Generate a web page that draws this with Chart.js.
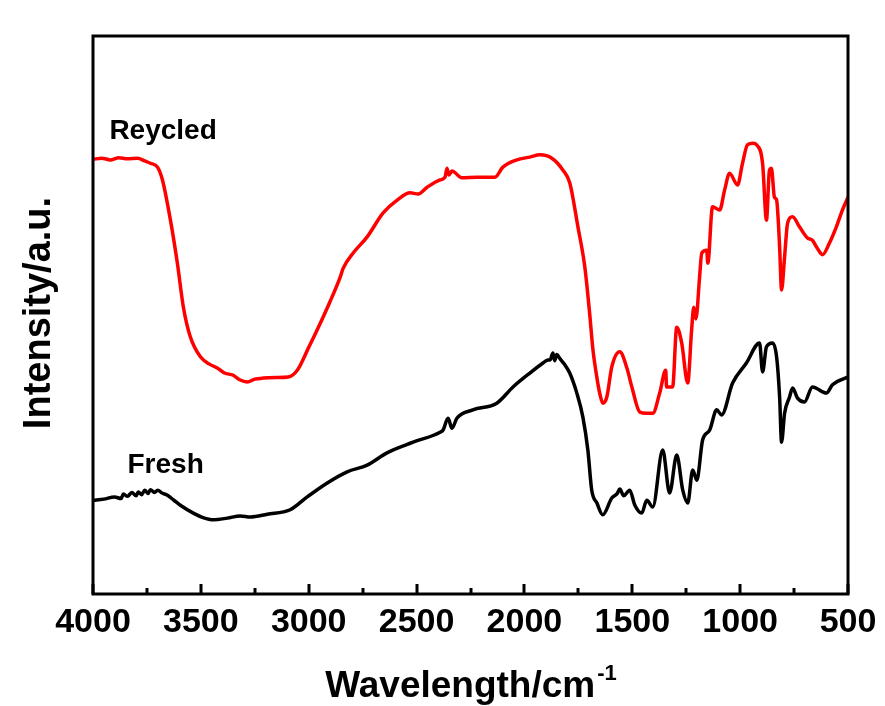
<!DOCTYPE html>
<html>
<head>
<meta charset="utf-8">
<script src="https://cdn.jsdelivr.net/npm/chart.js@4/dist/chart.umd.min.js"></script>
<style>
  html, body { margin: 0; padding: 0; background: #ffffff; }
  #wrap { width: 885px; height: 706px; position: relative; }
</style>
</head>
<body>
<div id="wrap"><canvas id="c" width="885" height="706"></canvas></div>
<script>
// FTIR spectra: wavenumber (cm-1) and relative intensity (a.u.)
const recycledWn = [4000, 3960, 3920, 3880, 3840, 3794, 3760, 3734, 3701, 3678, 3641, 3609, 3581, 3549, 3502, 3460, 3424, 3390, 3350, 3320, 3285, 3250, 3211, 3150, 3095, 3053, 3000, 2961, 2900, 2854, 2840, 2794, 2729, 2655, 2590, 2530, 2493, 2451, 2391, 2368, 2359, 2350, 2336, 2290, 2220, 2137, 2100, 2035, 1975, 1928, 1873, 1822, 1790, 1752, 1720, 1697, 1683, 1665, 1650, 1637, 1618, 1595, 1558, 1525, 1502, 1465, 1433, 1405, 1373, 1345, 1341, 1313, 1294, 1271, 1243, 1225, 1215, 1205, 1188, 1178, 1155, 1150, 1128, 1095, 1072, 1049, 1012, 989, 966, 940, 924, 896, 878, 864, 855, 841, 831, 817, 808, 794, 780, 757, 725, 688, 665, 646, 618, 586, 554, 526, 500];
const recycledInt = [77.9, 78.1, 77.8, 78.2, 78.0, 78.1, 77.6, 77.2, 76.5, 74.2, 67.0, 59.3, 51.4, 46.1, 42.5, 41.2, 40.5, 39.6, 39.2, 38.4, 38.0, 38.5, 38.7, 38.8, 38.9, 40.1, 44.2, 47.3, 52.5, 56.8, 58.4, 61.1, 64.0, 68.3, 70.6, 71.9, 71.7, 72.9, 74.2, 74.7, 76.3, 75.1, 75.8, 74.6, 74.7, 74.7, 76.5, 77.8, 78.3, 78.7, 78.1, 76.0, 73.7, 65.8, 58.6, 50.0, 44.0, 39.0, 35.8, 34.2, 35.3, 40.7, 43.4, 40.5, 37.1, 32.6, 32.4, 32.4, 36.0, 40.1, 37.1, 37.1, 47.8, 45.0, 37.8, 47.3, 51.4, 49.3, 56.8, 61.1, 61.6, 59.3, 69.4, 68.8, 72.4, 75.4, 73.3, 77.2, 80.5, 80.8, 80.5, 77.2, 67.0, 76.0, 76.3, 71.1, 70.6, 62.2, 54.5, 60.4, 66.5, 67.6, 65.8, 63.8, 63.4, 62.2, 60.8, 62.9, 65.8, 68.8, 71.1];

const freshWn = [4000, 3950, 3900, 3870, 3859, 3840, 3820, 3800, 3790, 3775, 3760, 3745, 3734, 3715, 3700, 3680, 3655, 3625, 3595, 3535, 3490, 3442, 3377, 3317, 3271, 3192, 3086, 3007, 2914, 2822, 2729, 2637, 2516, 2391, 2377, 2354, 2336, 2313, 2239, 2128, 2053, 1975, 1914, 1895, 1880, 1868, 1860, 1850, 1836, 1815, 1790, 1757, 1729, 1706, 1688, 1664, 1637, 1595, 1570, 1558, 1540, 1512, 1488, 1456, 1433, 1405, 1359, 1327, 1294, 1266, 1243, 1220, 1201, 1174, 1141, 1109, 1086, 1035, 971, 910, 896, 878, 850, 831, 817, 808, 794, 771, 757, 734, 702, 665, 600, 572, 500];
const freshInt = [16.8, 17.0, 17.4, 17.1, 17.9, 17.5, 18.2, 17.6, 18.3, 17.8, 18.6, 18.0, 18.7, 18.2, 18.6, 18.1, 17.7, 16.8, 15.9, 14.5, 13.7, 13.3, 13.6, 14.0, 13.8, 14.3, 15.1, 17.4, 19.9, 21.9, 23.1, 25.3, 27.2, 29.0, 29.4, 31.5, 29.7, 31.5, 33.0, 34.2, 37.1, 39.6, 41.4, 41.9, 42.0, 43.2, 41.8, 42.9, 42.2, 41.2, 39.6, 36.0, 31.7, 25.8, 18.6, 16.3, 14.2, 17.2, 18.0, 18.8, 17.6, 18.6, 15.9, 14.5, 16.8, 15.6, 25.8, 18.1, 24.9, 18.6, 16.3, 22.2, 20.4, 27.6, 29.4, 33.0, 32.1, 37.8, 41.4, 45.0, 39.8, 44.3, 45.0, 42.5, 35.3, 27.2, 32.4, 35.3, 36.9, 35.1, 34.4, 37.1, 36.0, 37.5, 38.9];

const majorTicks = [4000, 3500, 3000, 2500, 2000, 1500, 1000, 500];
const minorTicks = [3750, 3250, 2750, 2250, 1750, 1250, 750];

const seriesLabels = [
  { text: 'Reycled', wn: 3924, y: 81.5 },
  { text: 'Fresh', wn: 3840, y: 21.7 }
];

const FONT = '"Liberation Sans", Arial, Helvetica, sans-serif';

function pairs(xs, ys) { return xs.map((x, i) => ({ x: x, y: ys[i] })); }

// Frame, inward tick marks, curve labels and axis titles
const decorations = {
  id: 'decorations',
  afterDraw(chart) {
    const { ctx, chartArea: a, scales } = chart;
    const xs = scales.x, ys = scales.y;
    ctx.save();
    ctx.strokeStyle = '#000';
    ctx.lineWidth = 3;
    ctx.strokeRect(a.left, a.top, a.right - a.left, a.bottom - a.top);

    ctx.beginPath();
    majorTicks.forEach(v => {
      const px = Math.round(xs.getPixelForValue(v));
      ctx.moveTo(px, a.bottom);
      ctx.lineTo(px, a.bottom - 10);
    });
    minorTicks.forEach(v => {
      const px = Math.round(xs.getPixelForValue(v));
      ctx.moveTo(px, a.bottom);
      ctx.lineTo(px, a.bottom - 6);
    });
    ctx.stroke();

    ctx.fillStyle = '#000';
    ctx.textBaseline = 'alphabetic';
    ctx.textAlign = 'left';
    ctx.font = 'bold 28px ' + FONT;
    seriesLabels.forEach(l => {
      ctx.fillText(l.text, xs.getPixelForValue(l.wn), ys.getPixelForValue(l.y));
    });

    // x axis title with superscript
    ctx.font = 'bold 37px ' + FONT;
    const base = 'Wavelength/cm';
    const wBase = ctx.measureText(base).width;
    ctx.font = 'bold 22px ' + FONT;
    const sup = '-1';
    const wSup = ctx.measureText(sup).width;
    const cx = 470;
    const startX = cx - (wBase + wSup) / 2;
    ctx.font = 'bold 37px ' + FONT;
    ctx.fillText(base, startX, 697);
    ctx.font = 'bold 22px ' + FONT;
    ctx.fillText(sup, startX + wBase + 2, 680);

    // y axis title
    ctx.translate(50, 313);
    ctx.rotate(-Math.PI / 2);
    ctx.textAlign = 'center';
    ctx.font = 'bold 38px ' + FONT;
    ctx.fillText('Intensity/a.u.', 0, 0);
    ctx.restore();
  }
};

new Chart(document.getElementById('c'), {
  type: 'line',
  data: {
    datasets: [
      {
        label: 'Reycled',
        data: pairs(recycledWn, recycledInt),
        borderColor: '#ff0000',
        borderWidth: 3.5,
        pointRadius: 0,
        cubicInterpolationMode: 'monotone',
        fill: false
      },
      {
        label: 'Fresh',
        data: pairs(freshWn, freshInt),
        borderColor: '#000000',
        borderWidth: 3.5,
        pointRadius: 0,
        cubicInterpolationMode: 'monotone',
        fill: false
      }
    ]
  },
  options: {
    responsive: false,
    animation: false,
    events: [],
    layout: { padding: { left: 93, right: 37, top: 36, bottom: 0 } },
    plugins: { legend: { display: false }, tooltip: { enabled: false } },
    scales: {
      x: {
        type: 'linear',
        reverse: true,
        min: 500,
        max: 4000,
        afterBuildTicks: (scale) => { scale.ticks = majorTicks.map(v => ({ value: v })); },
        afterFit: (scale) => { scale.height = 112; },
        grid: { display: false, drawTicks: false },
        border: { display: false },
        ticks: {
          padding: 8,
          color: '#000',
          maxRotation: 0,
          autoSkip: false,
          font: { family: FONT, size: 34, weight: 'bold' },
          callback: (v) => String(v)
        }
      },
      y: {
        type: 'linear',
        min: 0,
        max: 100,
        display: false
      }
    }
  },
  plugins: [decorations]
});
</script>
</body>
</html>
